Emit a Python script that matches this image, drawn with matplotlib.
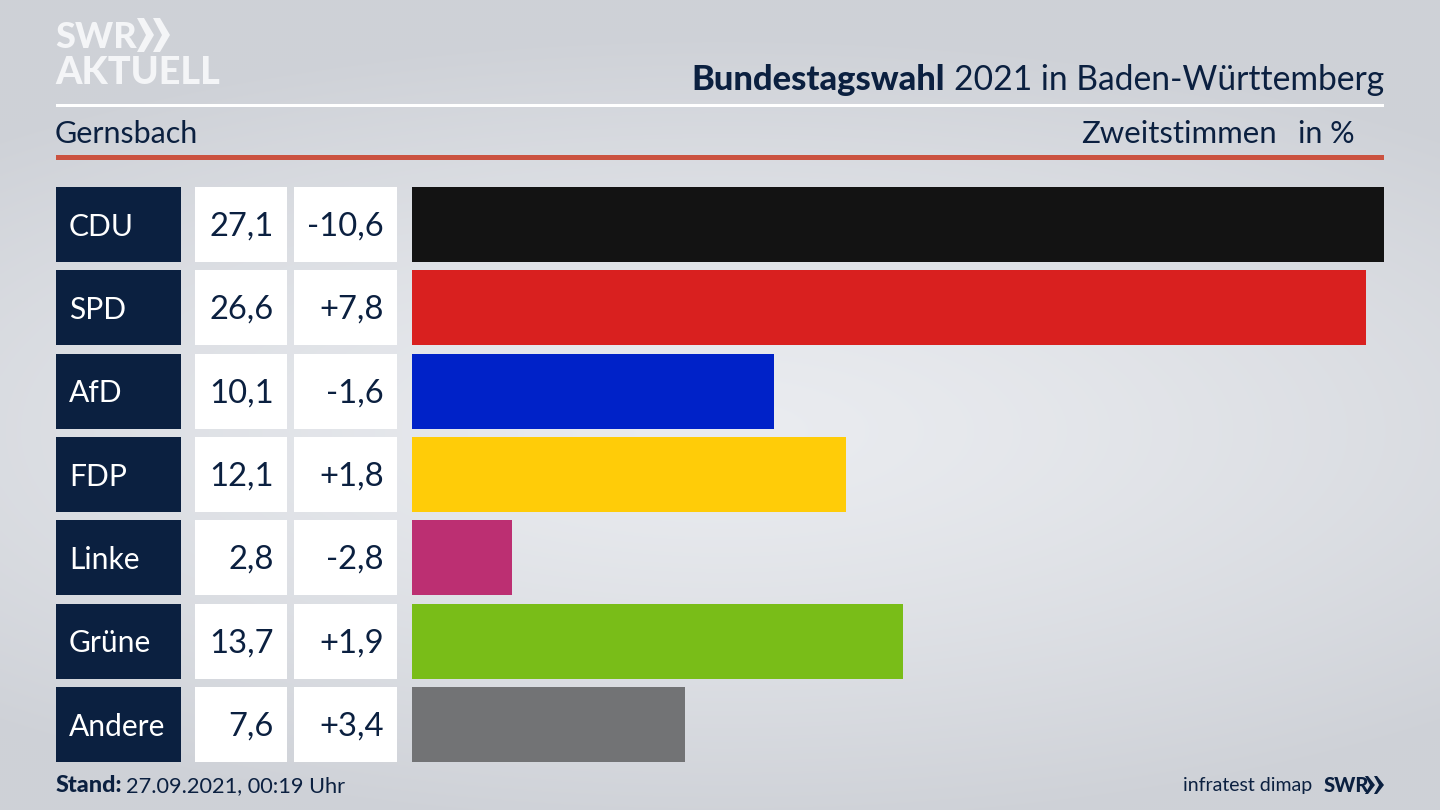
import numpy as np
import matplotlib
matplotlib.use("Agg")
import matplotlib.pyplot as plt
from matplotlib.patches import Rectangle, Polygon

parties = ["CDU", "SPD", "AfD", "FDP", "Linke", "Grüne", "Andere"]
shares = [27.1, 26.6, 10.1, 12.1, 2.8, 13.7, 7.6]
changes = ["-10,6", "+7,8", "-1,6", "+1,8", "-2,8", "+1,9", "+3,4"]
share_labels = ["27,1", "26,6", "10,1", "12,1", "2,8", "13,7", "7,6"]
colors = ["#131313", "#d9201f", "#0022c8", "#ffcc08", "#bc2f72", "#79bd18", "#727375"]

NAVY = "#0b2040"
plt.rcParams["font.family"] = ["Lato", "DejaVu Sans"]

W, H = 1440, 810
fig = plt.figure(figsize=(W / 100, H / 100), dpi=100)

# page layer in pixel coordinates
bg = fig.add_axes([0, 0, 1, 1])
bg.set_xlim(0, W)
bg.set_ylim(H, 0)
bg.axis("off")
yy, xx = np.mgrid[0:H:2, 0:W:2]
d = np.sqrt(((xx - 720) / 1100.0) ** 2 + ((yy - 430) / 400.0) ** 2)
d = np.clip(d, 0, 1)
c0 = np.array([0xea, 0xec, 0xf0]) / 255
c1 = np.array([0xce, 0xd1, 0xd7]) / 255
img = c0[None, None, :] + (c1 - c0)[None, None, :] * d[..., None] ** 1.3
bg.imshow(img, extent=(0, W, H, 0), aspect="auto", interpolation="bilinear", zorder=0)

# header
bg.add_patch(Rectangle((56, 104), 1328, 3, fc="white", ec="none", zorder=2))
bg.add_patch(Rectangle((56, 155), 1328, 5, fc="#cb5240", ec="none", zorder=2))
bg.text(54.5, 134, "Gernsbach", fontsize=22, color=NAVY, va="center", ha="left", zorder=3)
bg.text(1277, 134, "Zweitstimmen", fontsize=22.4, color=NAVY, va="center", ha="right", zorder=3)
bg.text(1355, 134, "in %", fontsize=22, color=NAVY, va="center", ha="right", zorder=3)
bg.text(1384, 80, "2021 in Baden-Württemberg", fontsize=24.2, color=NAVY, va="center", ha="right", zorder=3)
bg.text(945, 80, "Bundestagswahl", fontsize=24.8, color=NAVY, fontweight="black", va="center", ha="right", zorder=3)

# logo
bg.text(55, 37, "SWR", fontsize=26, color="#f4f5f7", fontweight="black", va="center", ha="left", zorder=3)
for x0 in (137, 153):
    bg.add_patch(Polygon([[x0, 18], [x0 + 7, 18], [x0 + 17, 35], [x0 + 7, 52], [x0, 52], [x0 + 9, 35]],
                         closed=True, fc="#f4f5f7", ec="none", zorder=3))
bg.text(55, 73, "AKTUELL", fontsize=27.2, color="#f4f5f7", fontweight="black", va="center", ha="left", zorder=3)

# table cells
pitch = 575 / 6.9
row_h = 75
for i, (p, s, c) in enumerate(zip(parties, share_labels, changes)):
    top = 187 + i * pitch
    mid = top + row_h / 2
    bg.add_patch(Rectangle((56, top), 125, row_h, fc=NAVY, ec="none", zorder=2))
    bg.add_patch(Rectangle((195, top), 92, row_h, fc="white", ec="none", zorder=2))
    bg.add_patch(Rectangle((294, top), 103, row_h, fc="white", ec="none", zorder=2))
    bg.text(69, mid + 2, p, fontsize=21.6, color="white", va="center", ha="left", zorder=3)
    bg.text(274, mid + 2, s, fontsize=23.6, color=NAVY, va="center", ha="right", zorder=3)
    bg.text(384, mid + 2, c, fontsize=23.6, color=NAVY, va="center", ha="right", zorder=3)

# footer
bg.text(56, 786, "Stand:", fontsize=16.8, color=NAVY, fontweight="black", va="center", ha="left", zorder=3)
bg.text(126, 786, "27.09.2021, 00:19 Uhr", fontsize=15.7, color=NAVY, va="center", ha="left", zorder=3)
bg.text(1312, 786, "infratest dimap", fontsize=14, color=NAVY, va="center", ha="right", zorder=3)
bg.text(1324, 785, "SWR", fontsize=14.5, color=NAVY, fontweight="black", va="center", ha="left", zorder=3)
for x0 in (1365, 1374):
    bg.add_patch(Polygon([[x0, 776], [x0 + 3, 776], [x0 + 10, 785], [x0 + 3, 794], [x0, 794], [x0 + 5, 785]],
                         closed=True, fc=NAVY, ec="none", zorder=3))

# bars
ax = fig.add_axes([412 / W, 1 - 762 / H, 972 / W, 575 / H])
ax.patch.set_alpha(0)
ax.barh(range(len(parties)), shares, height=0.9, color=colors)
ax.set_xlim(0, 27.1)
ax.set_ylim(6.45, -0.45)
ax.axis("off")

fig.savefig("out.png", dpi=100)
